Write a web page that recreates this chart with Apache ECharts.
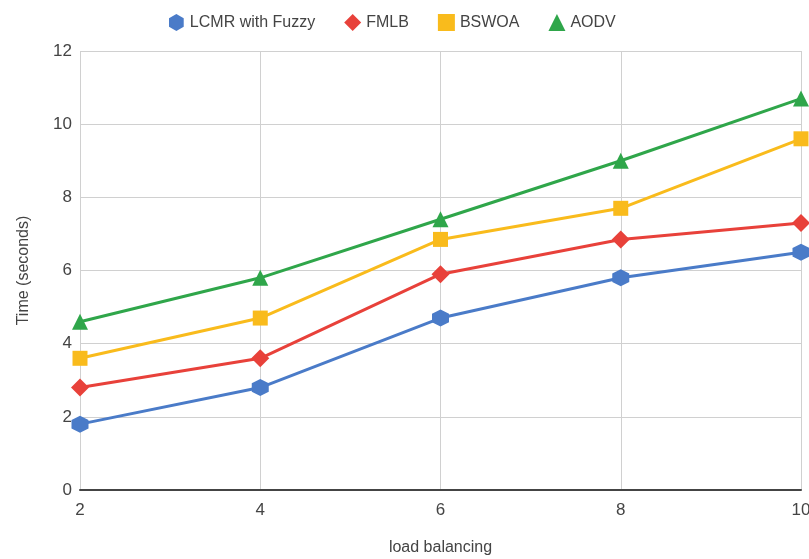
<!DOCTYPE html>
<html><head><meta charset="utf-8">
<script src="https://cdn.jsdelivr.net/npm/echarts@6/dist/echarts.min.js"></script>
<style>html,body{margin:0;padding:0;background:#fff}#c{width:809px;height:559px}</style>
</head><body><div id="c"></div>
<script>
const xValues = [2, 4, 6, 8, 10];
const lcmr = [1.8, 2.8, 4.7, 5.8, 6.5];
const fmlb = [2.8, 3.6, 5.9, 6.85, 7.3];
const bswoa = [3.6, 4.7, 6.85, 7.7, 9.6];
const aodv = [4.6, 5.8, 7.4, 9.0, 10.7];
const seriesNames = ['LCMR with Fuzzy', 'FMLB', 'BSWOA', 'AODV'];
const colors = ['#4a7bc8', '#e8413a', '#f9bb1c', '#2fa64a'];
const hex = 'path://M50,0 L93.3,25 L93.3,75 L50,100 L6.7,75 L6.7,25 Z';
const symbols = [hex, 'diamond', 'rect', 'triangle'];
const symSizes = [17, 18, 15, 16];
const datas = [lcmr, fmlb, bswoa, aodv];
const font = 'Liberation Sans, Arial, sans-serif';
const chart = echarts.init(document.getElementById('c'));
chart.setOption({
  animation: false,
  color: colors,
  textStyle: {fontFamily: font},
  legend: {
    top: 9, left: 164,
    itemGap: 29, itemWidth: 17, itemHeight: 17,
    textStyle: {fontSize: 16, color: '#444', fontFamily: font},
    data: seriesNames.map((n, i) => ({name: n, icon: symbols[i], itemStyle: {color: colors[i]}}))
  },
  grid: {left: 80, right: 8, top: 51, bottom: 69, containLabel: false, outerBoundsMode: 'none'},
  xAxis: {
    type: 'value', min: 2, max: 10, interval: 2,
    name: 'load balancing', nameLocation: 'middle', nameGap: 50,
    nameTextStyle: {fontSize: 16, color: '#444', fontFamily: font},
    axisLine: {show: true, lineStyle: {color: '#444', width: 2}},
    axisTick: {show: false},
    axisLabel: {fontSize: 17, color: '#444', margin: 12, fontFamily: font},
    splitLine: {show: true, lineStyle: {color: '#d0d0d0', width: 1}}
  },
  yAxis: {
    type: 'value', min: 0, max: 12, interval: 2,
    name: 'Time (seconds)', nameLocation: 'middle', nameGap: 48, nameRotate: 90,
    nameTextStyle: {fontSize: 16, color: '#444', fontFamily: font},
    axisLine: {show: false},
    axisTick: {show: false},
    axisLabel: {fontSize: 17, color: '#444', margin: 8, fontFamily: font},
    splitLine: {show: true, lineStyle: {color: '#d0d0d0', width: 1}}
  },
  series: datas.map((d, i) => ({
    name: seriesNames[i], type: 'line',
    data: d.map((v, j) => [xValues[j], v]),
    symbol: symbols[i], symbolSize: symSizes[i],
    lineStyle: {width: 3, color: colors[i]},
    itemStyle: {color: colors[i]},
    clip: false, z: 3
  }))
});
</script></body></html>
